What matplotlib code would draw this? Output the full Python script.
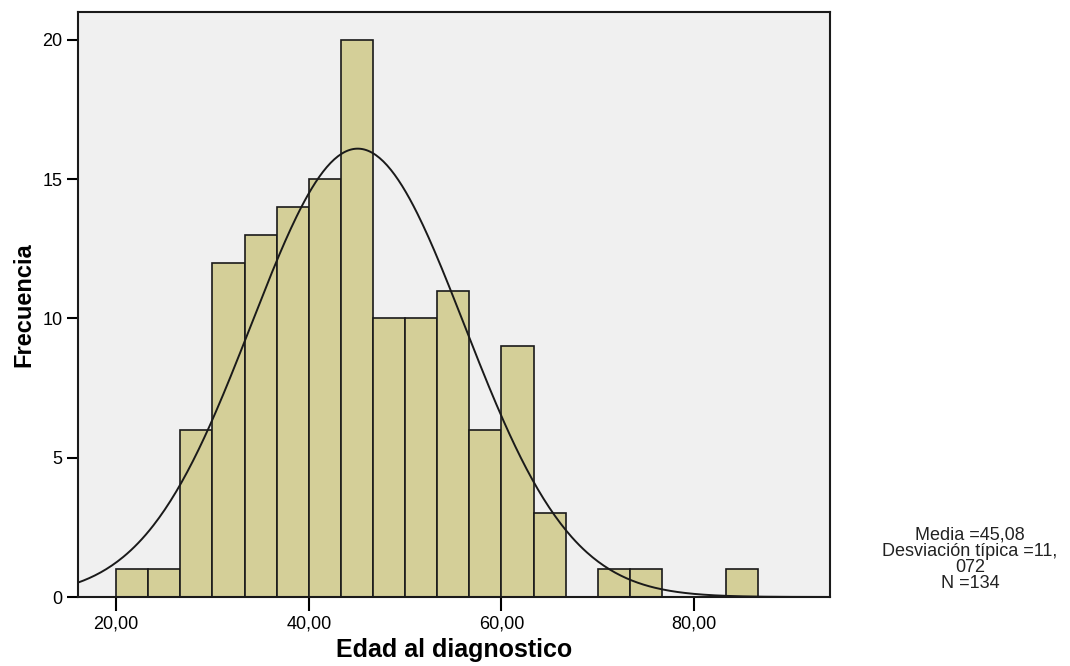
import matplotlib.pyplot as plt
import numpy as np

plt.rcParams["font.family"] = ["Liberation Sans", "DejaVu Sans"]

# Histogram of age at diagnosis (bin edges every 10/3 years starting at 20)
bin_start = 20.0
bin_width = 10.0 / 3.0
counts = [1, 1, 6, 12, 13, 14, 15, 20, 10, 10, 11, 6, 9, 3, 0, 1, 1, 0, 0, 1]

mean_age = 45.08
std_age = 11.072
n_total = 134

x_ticks = [20, 40, 60, 80]
x_tick_labels = ["20,00", "40,00", "60,00", "80,00"]
y_ticks = [0, 5, 10, 15, 20]

edges = bin_start + bin_width * np.arange(len(counts))

fig = plt.figure(figsize=(10.7, 6.66), dpi=100)
ax = fig.add_axes([0.0729, 0.1036, 0.7028, 0.8784])
ax.set_facecolor("#F0F0F0")

ax.bar(edges, counts, width=bin_width, align="edge",
       color="#D4CF98", edgecolor="#1a1a1a", linewidth=1.2, zorder=2)

# Normal curve scaled to the histogram
xs = np.linspace(16.05, 94.1, 400)
pdf = np.exp(-0.5 * ((xs - mean_age) / std_age) ** 2) / (std_age * np.sqrt(2 * np.pi))
ax.plot(xs, n_total * bin_width * pdf, color="#1a1a1a", linewidth=1.4, zorder=3)

ax.set_xlim(16.05, 94.1)
ax.set_ylim(0, 21.0)
ax.set_xticks(x_ticks)
ax.set_xticklabels(x_tick_labels)
ax.set_yticks(y_ticks)
ax.tick_params(axis="x", direction="out", length=10, width=1.5, labelsize=13, pad=3)
ax.tick_params(axis="y", direction="out", length=8, width=1.5, labelsize=13, pad=3)

for spine in ax.spines.values():
    spine.set_linewidth(1.5)
    spine.set_color("#1a1a1a")
    spine.set_zorder(4)

ax.set_xlabel("Edad al diagnostico", fontsize=18, fontweight="bold", labelpad=4)
ax.set_ylabel("Frecuencia", fontsize=17, fontweight="bold", labelpad=5)

stats = "Media =45,08\nDesviación típica =11,\n072\nN =134"
fig.text(0.9065, 1 - 527 / 666, stats, ha="center", va="top", fontsize=13,
         linespacing=0.93, color="#222222")

fig.savefig("out.png", dpi=100, facecolor="white")
